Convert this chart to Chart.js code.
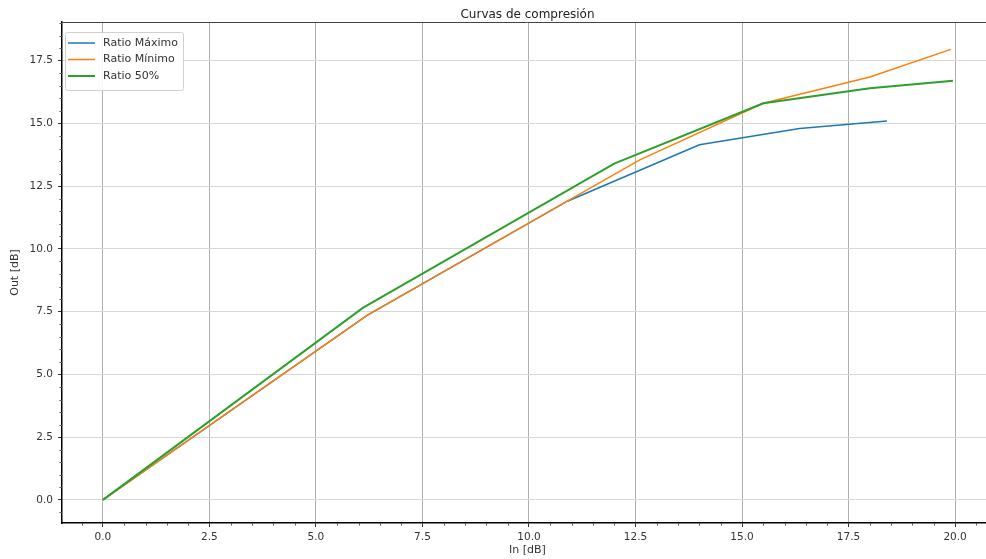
<!DOCTYPE html>
<html>
<head>
<meta charset="utf-8">
<script src="https://cdn.jsdelivr.net/npm/chart.js@4"></script>
<style>
  html, body { margin: 0; padding: 0; background: #fff; overflow: hidden; }
</style>
</head>
<body>
<canvas id="compChart" width="993" height="559"></canvas>
<script>
// curvas de compresion
const inMax = [0, 6.2, 10.9, 14.0, 16.35, 18.4];
const outMax = [0, 7.35, 11.9, 14.15, 14.8, 15.1];
const inMin = [0, 6.2, 10.9, 12.6, 15.5, 18.0, 19.9];
const outMin = [0, 7.35, 11.9, 13.55, 15.8, 16.85, 17.95];
const in50 = [0, 6.1, 12.0, 15.5, 18.0, 19.95];
const out50 = [0, 7.65, 13.4, 15.8, 16.4, 16.7];

const xTicks = [0, 2.5, 5, 7.5, 10, 12.5, 15, 17.5, 20];
const yTicks = [0, 2.5, 5, 7.5, 10, 12.5, 15, 17.5];

const FONT = "'DejaVu Sans', sans-serif";

function toPoints(xs, ys) {
    return xs.map((x, i) => ({ x: x, y: ys[i] }));
}

// titulo, borde superior, ticks menores y leyenda
const extras = {
    id: "extras",
    afterDraw(chart) {
        const ctx = chart.ctx;
        const area = chart.chartArea;
        const xs = chart.scales.x;
        const ys = chart.scales.y;
        ctx.save();

        // borde superior
        ctx.strokeStyle = "#444";
        ctx.lineWidth = 1;
        ctx.beginPath();
        ctx.moveTo(area.left, area.top + 0.5);
        ctx.lineTo(area.right, area.top + 0.5);
        ctx.stroke();

        // ticks menores
        ctx.strokeStyle = "#555";
        ctx.lineWidth = 1;
        ctx.beginPath();
        for (let v = -0.5; v <= 20.5; v += 0.5) {
            if (Math.abs(v / 2.5 - Math.round(v / 2.5)) < 1e-6) continue;
            const px = Math.round(xs.getPixelForValue(v)) + 0.5;
            if (px < area.left || px > area.right) continue;
            ctx.moveTo(px, area.bottom);
            ctx.lineTo(px, area.bottom + 2.5);
        }
        for (let v = -0.5; v <= 19; v += 0.5) {
            if (Math.abs(v / 2.5 - Math.round(v / 2.5)) < 1e-6) continue;
            const py = Math.round(ys.getPixelForValue(v)) + 0.5;
            if (py < area.top || py > area.bottom) continue;
            ctx.moveTo(area.left, py);
            ctx.lineTo(area.left - 2.5, py);
        }
        ctx.stroke();

        // titulo
        ctx.fillStyle = "#222";
        ctx.font = "12px " + FONT;
        ctx.textAlign = "center";
        ctx.textBaseline = "middle";
        ctx.fillText("Curvas de compresión", (area.left + area.right) / 2, 15);

        // leyenda
        const lx = area.left + 3, ly = area.top + 10, lw = 118, lh = 58;
        ctx.fillStyle = "rgba(255,255,255,0.9)";
        ctx.strokeStyle = "#d0d0d0";
        ctx.beginPath();
        ctx.roundRect(lx + 0.5, ly + 0.5, lw, lh, 2);
        ctx.fill();
        ctx.stroke();
        ctx.font = "11px " + FONT;
        ctx.textAlign = "left";
        chart.data.datasets.forEach((ds, i) => {
            const yy = ly + 11 + i * 16.5;
            ctx.strokeStyle = ds.borderColor;
            ctx.lineWidth = ds.borderWidth;
            ctx.beginPath();
            ctx.moveTo(lx + 3, yy);
            ctx.lineTo(lx + 30, yy);
            ctx.stroke();
            ctx.fillStyle = "#333";
            ctx.fillText(ds.label, lx + 38, yy);
        });
        ctx.restore();
    }
};

new Chart(document.getElementById("compChart").getContext("2d"), {
    type: "scatter",
    data: {
        datasets: [
            {
                label: "Ratio Máximo",
                data: toPoints(inMax, outMax),
                borderColor: "#1f77b4",
                backgroundColor: "#1f77b4",
                borderWidth: 1.5,
                showLine: true,
                pointRadius: 0,
                order: 3
            },
            {
                label: "Ratio Mínimo",
                data: toPoints(inMin, outMin),
                borderColor: "#ff7f0e",
                backgroundColor: "#ff7f0e",
                borderWidth: 1.5,
                showLine: true,
                pointRadius: 0,
                order: 2
            },
            {
                label: "Ratio 50%",
                data: toPoints(in50, out50),
                borderColor: "#2ca02c",
                backgroundColor: "#2ca02c",
                borderWidth: 2,
                showLine: true,
                pointRadius: 0,
                order: 1
            }
        ]
    },
    options: {
        responsive: false,
        devicePixelRatio: 1,
        animation: false,
        layout: { padding: { top: 22, left: 0, right: 0, bottom: 0 } },
        plugins: {
            legend: { display: false },
            title: { display: false },
            tooltip: { enabled: false }
        },
        scales: {
            x: {
                type: "linear",
                min: -0.96,
                max: 20.89,
                afterFit: scale => { scale.height = 36; },
                afterBuildTicks: scale => { scale.ticks = xTicks.map(v => ({ value: v })); },
                border: { color: "#000", width: 1.5 },
                grid: { color: "#b0b0b0", tickColor: "#333", tickLength: 4 },
                ticks: {
                    color: "#333",
                    padding: 4,
                    maxRotation: 0,
                    font: { family: FONT, size: 10.5 },
                    callback: v => Number(v).toFixed(1)
                },
                title: {
                    display: true,
                    text: "In [dB]",
                    color: "#333",
                    font: { family: FONT, size: 11 },
                    padding: { top: 0, bottom: 2 }
                }
            },
            y: {
                type: "linear",
                min: -0.92,
                max: 19.04,
                afterFit: scale => { scale.width = 62; },
                afterBuildTicks: scale => { scale.ticks = yTicks.map(v => ({ value: v })); },
                border: { color: "#000", width: 1.5 },
                grid: { color: "#d8d8d8", tickColor: "#333", tickLength: 4 },
                ticks: {
                    color: "#333",
                    padding: 5,
                    font: { family: FONT, size: 10.5 },
                    callback: v => Number(v).toFixed(1)
                },
                title: {
                    display: true,
                    text: "Out [dB]",
                    color: "#333",
                    font: { family: FONT, size: 11 },
                    padding: { top: 9, bottom: 0 }
                }
            }
        }
    },
    plugins: [extras]
});
</script>
</body>
</html>
